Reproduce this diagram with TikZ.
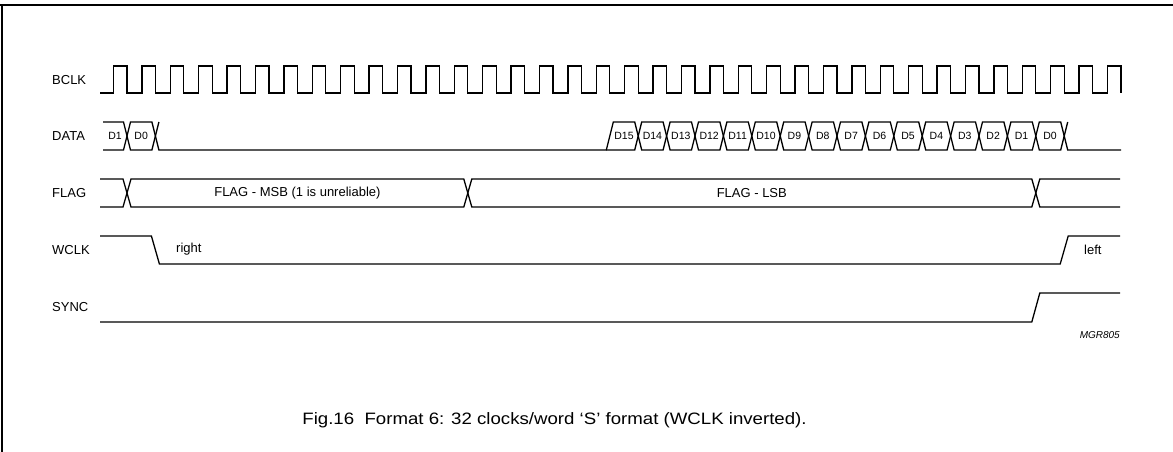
\documentclass[tikz,border=0pt]{standalone}
\usepackage{fontspec}
\setmainfont{Liberation Sans}
\begin{document}
\begin{tikzpicture}[x=1pt,y=-1pt,
  sig/.style={line width=1.3pt,line join=miter},
  frame/.style={line width=1.5pt},
  siglabel/.style={anchor=west,inner sep=0pt,font=\fontsize{13}{15}\selectfont},
  bit/.style={inner sep=0pt,font=\fontsize{10.5}{12}\selectfont},
  txt/.style={inner sep=0pt,font=\fontsize{13}{15}\selectfont},
  tag/.style={anchor=east,inner sep=0pt,font=\fontsize{10}{12}\selectfont\itshape},
  caption/.style={inner sep=0pt,font=\fontsize{16.5}{18}\selectfont}]
\useasboundingbox (0,0) rectangle (1173,452);
% frame
\draw[frame] (0,5) -- (1173,5);
\draw[frame] (2,5) -- (2,452);
% falling edges f_k = 127 + k*28.4
\def\P{28.4}
% signal names
\node[siglabel] (lbclk) at (52,80) {BCLK};
\node[siglabel] (ldata) at (52,136) {DATA};
\node[siglabel] (lflag) at (52,193) {FLAG};
\node[siglabel] (lwclk) at (52,250) {WCLK};
\node[siglabel] (lsync) at (52,307) {SYNC};
% BCLK
\draw[sig] (100,93) \foreach \k in {0,...,35} {
  -- ({127+\k*\P-13.5},93) -- ({127+\k*\P-13.5},66) -- ({127+\k*\P},66) -- ({127+\k*\P},93) };
% DATA
\draw[sig] (103,122) -- ({127-3.5},122) -- ({127+3.5},150) -- ({127+\P-3.5},150) -- ({127+\P+3.5},122);
\draw[sig] (103,150) -- ({127-3.5},150) -- ({127+3.5},122) -- ({127+\P-3.5},122) -- ({127+\P+3.5},150)
  -- ({127+17*\P-3.5},150) -- ({127+17*\P+3.5},122)
  \foreach \k in {18,20,...,32} {
   -- ({127+\k*\P-3.5},122) -- ({127+\k*\P+3.5},150) -- ({127+(\k+1)*\P-3.5},150) -- ({127+(\k+1)*\P+3.5},122) };
\draw[sig] ({127+17*\P-3.5},150)
  \foreach \k in {18,20,...,32} {
   -- ({127+\k*\P-3.5},150) -- ({127+\k*\P+3.5},122) -- ({127+(\k+1)*\P-3.5},122) -- ({127+(\k+1)*\P+3.5},150) }
  -- (1121,150);
\node[bit] (s1) at (115,136) {D1};
\node[bit] (s0) at ({127+0.5*\P},136) {D0};
\foreach \k in {17,...,32} {
  \pgfmathtruncatemacro\n{32-\k}
  \node[bit] (b\n) at ({127+(\k+0.5)*\P},136) {D\n};
}
% FLAG
\draw[sig] (100,179) -- ({127-4},179) -- ({127+4},207) -- ({127+12*\P-4},207) -- ({127+12*\P+4},179)
  -- ({127+32*\P-4},179) -- ({127+32*\P+4},207) -- (1120,207);
\draw[sig] (100,207) -- ({127-4},207) -- ({127+4},179) -- ({127+12*\P-4},179) -- ({127+12*\P+4},207)
  -- ({127+32*\P-4},207) -- ({127+32*\P+4},179) -- (1120,179);
\node[txt] (fmsb) at ({127+6*\P},193) {FLAG - MSB (1 is unreliable)};
\node[txt] (flsb) at ({127+22*\P},193) {FLAG - LSB};
% WCLK
\draw[sig] (100,236) -- ({127+\P-4},236) -- ({127+\P+4},264) -- ({127+33*\P-4},264) -- ({127+33*\P+4},236) -- (1120,236);
\node[txt,anchor=west] (right) at (176,249) {right};
\node[txt,anchor=west] (left) at (1084,250) {left};
% SYNC
\draw[sig] (100,322) -- ({127+32*\P-4},322) -- ({127+32*\P+4},293) -- (1120,293);
% tag and caption
\node[tag] (mgr) at (1120,335) {MGR805};
\node[caption] (cap) at (554.5,420) {\scalebox{1.13}[1]{Fig.16\ \ Format 6: 32 clocks/word ‘S’ format (WCLK inverted).}};
\end{tikzpicture}
\end{document}
